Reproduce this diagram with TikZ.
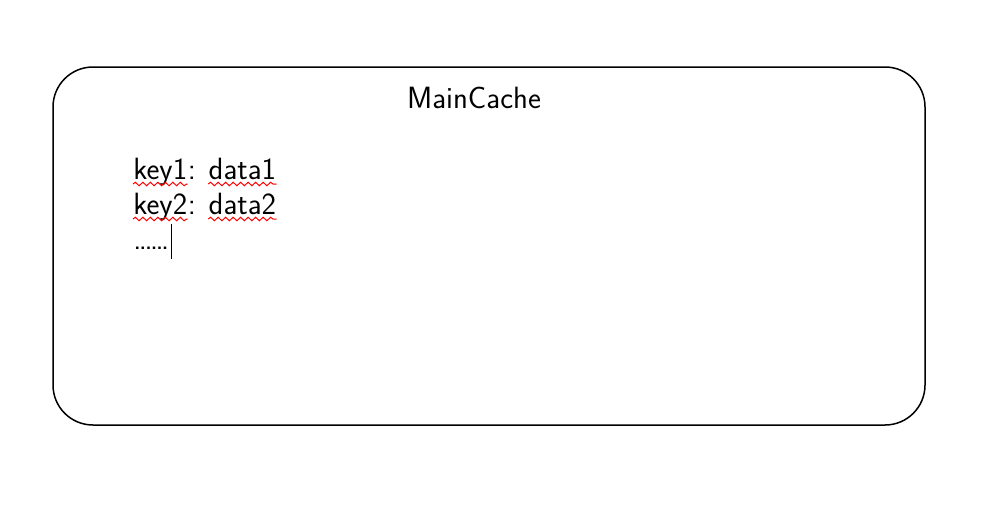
\documentclass[tikz,border=0pt]{standalone}
\usetikzlibrary{positioning, decorations.pathmorphing}
\begin{document}
\begin{tikzpicture}
[
    x=0.02cm, y=-0.02cm,
    cache_box/.style={draw=black, line width=0.3mm, rounded corners=8mm},
    cache_text/.style={inner sep=0pt, anchor=base west, font=\sffamily\fontsize{17.5}{21}\selectfont},
    spell_line/.style={draw=red, line width=0.2mm, decorate, decoration={snake, amplitude=0.35mm, segment length=1.5mm}},
]
    \useasboundingbox (0,0) rectangle (999,524);
    \draw[cache_box] (53,67) rectangle (925,425);
    \node[cache_text, anchor=base] (title) at (474,108) {MainCache};
    \node[cache_text] (key1) at (133,179) {key1};
    \node[cache_text] (colon1) at (key1.base east) {:};
    \node[cache_text] (data1) at ([xshift=2.4mm]colon1.base east) {data1};
    \node[cache_text] (key2) at (133,214) {key2};
    \node[cache_text] (colon2) at (key2.base east) {:};
    \node[cache_text] (data2) at ([xshift=2.4mm]colon2.base east) {data2};
    \node[cache_text] (dots) at (133,249) {.\kern-1.4pt.\kern-1.4pt.\kern-1.4pt.\kern-1.4pt.\kern-1.4pt.};
    \coordinate (cursor) at ([xshift=0.3mm]dots.base east);
    \draw[spell_line] ([yshift=-1mm]key1.base west) -- ([yshift=-1mm]key1.base east);
    \draw[spell_line] ([yshift=-1mm]data1.base west) -- ([yshift=-1mm]data1.base east);
    \draw[spell_line] ([yshift=-1mm]key2.base west) -- ([yshift=-1mm]key2.base east);
    \draw[spell_line] ([yshift=-1mm]data2.base west) -- ([yshift=-1mm]data2.base east);
    \draw[line width=0.2mm] ([yshift=5mm]cursor) -- ([yshift=-2mm]cursor);
\end{tikzpicture}
\end{document}
